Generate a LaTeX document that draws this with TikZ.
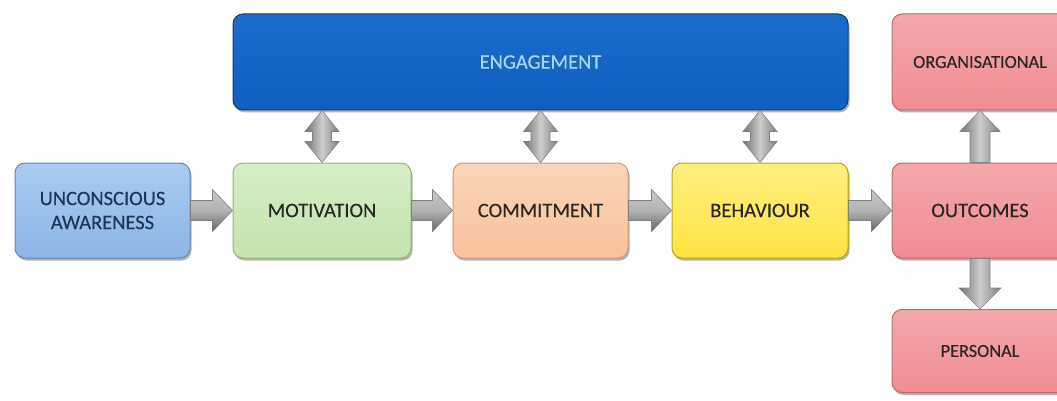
\documentclass[tikz,border=0pt]{standalone}
\usepackage{fontspec}
\setmainfont{Carlito}[FakeBold=0.3]
\usetikzlibrary{calc,shadows}
\definecolor{uaF}{HTML}{8CB6E6}\definecolor{uaT}{HTML}{A9CBF0}\definecolor{uaD}{HTML}{5F88BA}\definecolor{uaX}{HTML}{1F3558}
\definecolor{moF}{HTML}{C3E3AE}\definecolor{moT}{HTML}{D6EEC6}\definecolor{moD}{HTML}{8DB86E}
\definecolor{coF}{HTML}{F8C29C}\definecolor{coT}{HTML}{FBD5B8}\definecolor{coD}{HTML}{CF9A70}
\definecolor{beF}{HTML}{FFE444}\definecolor{beT}{HTML}{FFEE80}\definecolor{beD}{HTML}{C6A400}
\definecolor{ouF}{HTML}{F08C92}\definecolor{ouT}{HTML}{F5A8AD}\definecolor{ouD}{HTML}{C6676E}
\definecolor{enF}{HTML}{0F5FBE}\definecolor{enT}{HTML}{1C6CCC}\definecolor{enD}{HTML}{0A3C7A}\definecolor{enX}{HTML}{A8D6F6}
\definecolor{txD}{HTML}{2A2624}
\newcommand\harr[2]{\path[harrow] let \p1=(#1.east), \p2=(#2.west) in (\x1,\y1+10pt) -- (\x2-20pt,\y1+10pt) -- (\x2-20pt,\y1+21pt) -- (\x2,\y1) -- (\x2-20pt,\y1-21pt) -- (\x2-20pt,\y1-10pt) -- (\x1,\y1-10pt) -- cycle;}
\newcommand\varr[2]{\path[varrow] let \p1=(#1.south), \p2=(#2.north) in (\x2,\y1) -- (\x2+17pt,\y1-21pt) -- (\x2+9.5pt,\y1-21pt) -- (\x2+9.5pt,\y2+21pt) -- (\x2+17pt,\y2+21pt) -- (\x2,\y2) -- (\x2-17pt,\y2+21pt) -- (\x2-9.5pt,\y2+21pt) -- (\x2-9.5pt,\y1-21pt) -- (\x2-17pt,\y1-21pt) -- cycle;}
\newcommand\uparr[2]{\path[varrow] let \p1=(#1.north), \p2=(#2.south) in (\x1-10pt,\y1) -- (\x1-10pt,\y2-21pt) -- (\x1-20pt,\y2-21pt) -- (\x1,\y2) -- (\x1+20pt,\y2-21pt) -- (\x1+10pt,\y2-21pt) -- (\x1+10pt,\y1) -- cycle;}
\newcommand\dnarr[2]{\path[varrow] let \p1=(#1.south), \p2=(#2.north) in (\x1-10pt,\y1) -- (\x1-10pt,\y2+21pt) -- (\x1-21pt,\y2+21pt) -- (\x1,\y2) -- (\x1+21pt,\y2+21pt) -- (\x1+10pt,\y2+21pt) -- (\x1+10pt,\y1) -- cycle;}
\begin{document}
\begin{tikzpicture}[x=1pt,y=-1pt,
  box/.style={rounded corners=10pt, line width=1pt, align=center, inner sep=2pt,
    font=\fontsize{20.5}{24}\selectfont, text=txD,
    drop shadow={shadow xshift=1.5pt, shadow yshift=-2.5pt, opacity=0.3, fill=black}},
  boxsm/.style={box, font=\fontsize{18.3}{22}\selectfont},
  harrow/.style={draw=black!50, line width=0.6pt, top color=black!22, bottom color=black!60, middle color=black!30},
  varrow/.style={draw=black!50, line width=0.6pt, left color=black!55, right color=black!50, middle color=black!20}]
\useasboundingbox (0,0) rectangle (1057,401);
\clip (0,0) rectangle (1057,401);
\node[box, minimum width=175pt, minimum height=95pt, top color=uaT, bottom color=uaF, draw=uaD, text=uaX] (ua) at (102.5,210.5) {UNCONSCIOUS\\AWARENESS};
\node[box, minimum width=178pt, minimum height=95pt, top color=moT, bottom color=moF, draw=moD] (mo) at (322,210.5) {MOTIVATION};
\node[box, minimum width=175pt, minimum height=95pt, top color=coT, bottom color=coF, draw=coD] (co) at (540.5,210.5) {COMMITMENT};
\node[box, minimum width=176pt, minimum height=95pt, top color=beT, bottom color=beF, draw=beD] (be) at (760,210.5) {BEHAVIOUR};
\node[box, minimum width=176pt, minimum height=95pt, top color=ouT, bottom color=ouF, draw=ouD] (ou) at (980,210.5) {OUTCOMES};
\node[box, minimum width=615pt, minimum height=96pt, top color=enT, bottom color=enF, draw=enD, text=enX] (en) at (540.5,62) {ENGAGEMENT};
\node[boxsm, minimum width=176pt, minimum height=96pt, top color=ouT, bottom color=ouF, draw=ouD] (org) at (980,62) {ORGANISATIONAL};
\node[boxsm, minimum width=176pt, minimum height=83pt, top color=ouT, bottom color=ouF, draw=ouD] (per) at (980,351) {PERSONAL};
\harr{ua}{mo}
\harr{mo}{co}
\harr{co}{be}
\harr{be}{ou}
\varr{en}{mo}
\varr{en}{co}
\varr{en}{be}
\uparr{ou}{org}
\dnarr{ou}{per}
\end{tikzpicture}
\end{document}
